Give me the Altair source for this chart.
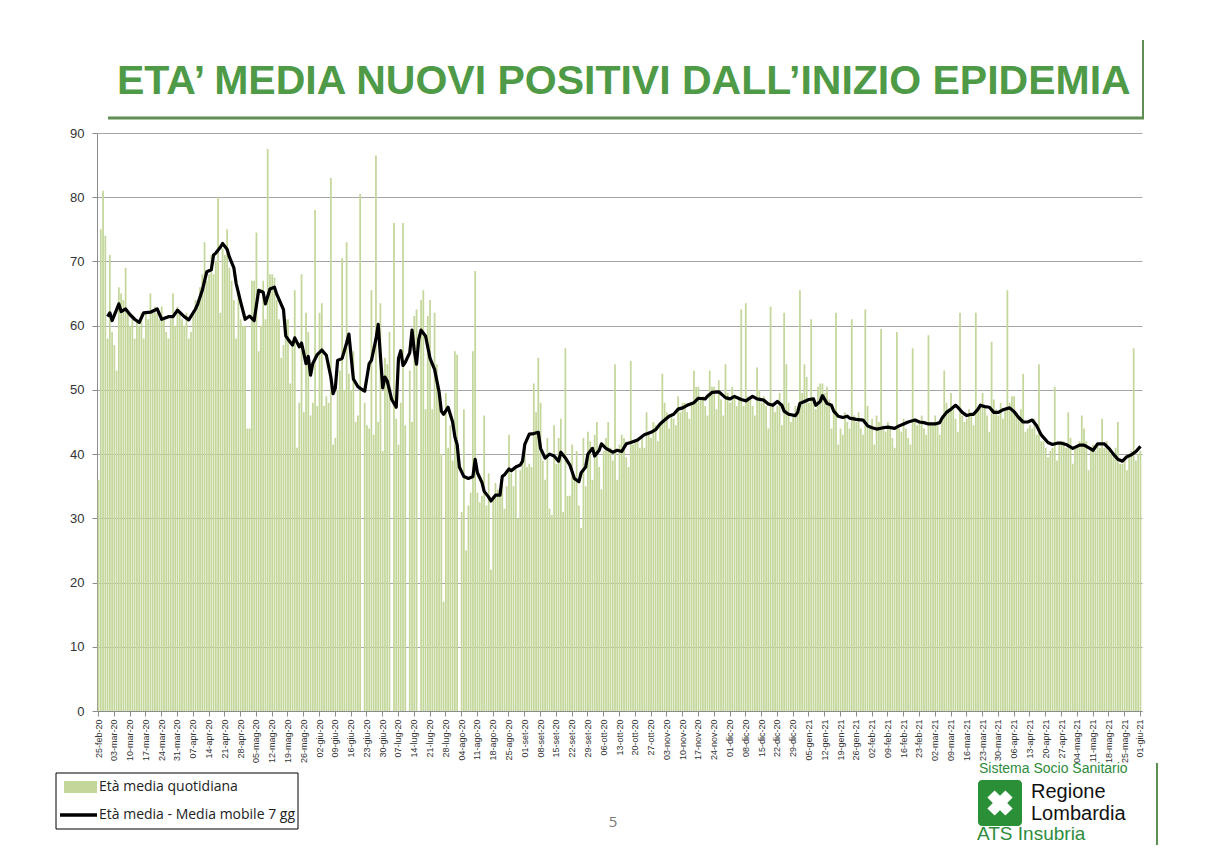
import altair as alt
import pandas as pd
from datetime import date, timedelta

# ---------------- categories (days) ----------------
MESI = ["gen", "feb", "mar", "apr", "mag", "giu", "lug", "ago", "set", "ott", "nov", "dic"]
INIZIO = date(2020, 2, 25)
N_GIORNI = 463
giorni = [INIZIO + timedelta(days=i) for i in range(N_GIORNI)]
etichette = [f"{g.day:02d}-{MESI[g.month - 1]}-{g.year % 100:02d}" for g in giorni]
tick_labels = etichette[::7]

# ---------------- daily mean age (bars), one row per week ----------------
eta_quotidiana = [
    36, 75, 81, 74, 58, 71, 59,            # 25-feb
    57, 53, 66, 65, 64, 69, 62,            # 03-mar
    60, 61, 58, 61, 60, 62, 58,            # 10-mar
    62, 61, 65, 62, 63, 62, 61,            # 17-mar
    63, 61, 59, 58, 61, 65, 60,            # 24-mar
    63, 62, 61, 60, 62, 58, 59,            # 31-mar
    62, 64, 64, 66, 68, 73, 67,            # 07-apr
    68, 71, 68, 70, 80, 62, 72,            # 14-apr
    71, 75, 69, 67, 64, 58, 65,            # 21-apr
    61, 60, 60, 44, 44, 67, 67,            # 28-apr
    74.5, 56, 60, 67, 61, 87.5, 68,        # 05-mag
    68, 67.5, 64, 61, 55, 57, 61,          # 12-mag
    61, 51, 57, 65.5, 41, 48, 68,          # 19-mag
    46.5, 62, 59, 46, 48, 78, 47.5,        # 26-mag
    62, 63.5, 47.5, 49, 48, 83, 41.5,      # 02-giu
    42.5, 50, 53, 70.5, 50, 73, 52.5,      # 09-giu
    50, 56, 45, 46, 80.5, 0, 48,           # 16-giu
    44.5, 44, 65.5, 43, 86.5, 45, 63.5,    # 23-giu
    40.5, 55, 54, 59, 0, 76, 45.5,         # 30-giu
    41.5, 48, 76, 44.5, 0, 53, 45,         # 07-lug
    61.5, 62.5, 0, 64, 65.5, 47, 61.5,     # 14-lug
    64, 47, 62, 54, 50, 40, 17,            # 21-lug
    49.5, 41, 44.5, 39, 56, 55.5, 0,       # 28-lug
    31, 47, 25, 32, 34, 56, 68.5,          # 04-ago
    34, 32.5, 33.5, 46, 32, 37, 22,        # 11-ago
    33.5, 35.5, 34.5, 33.5, 35, 31.5, 35,  # 18-ago
    43, 37, 35, 38, 30, 37.5, 39.5,        # 25-ago
    41, 38, 38.5, 38, 51, 46.5, 55,        # 01-set
    48, 39, 36, 42.5, 31.5, 30.5, 44.5,    # 08-set
    38.5, 42.5, 45.5, 31, 56.5, 33.5, 33.5,  # 15-set
    41.5, 36, 40.5, 32, 28.5, 42.5, 35,    # 22-set
    43.5, 42, 36, 43, 45, 38, 34.5,        # 29-set
    40.5, 42.5, 45, 41, 39, 54, 36,        # 06-ott
    41.5, 43, 42.5, 39.5, 38, 54.5, 41.5,  # 13-ott
    42, 42, 41, 42.5, 41, 46.5, 43,        # 20-ott
    42.5, 45, 44.5, 42, 44.5, 52.5, 48,    # 27-ott
    46.5, 44, 46, 45.5, 44.5, 49, 46.5,    # 03-nov
    48, 48, 46.5, 45.5, 48, 53, 50.5,      # 10-nov
    50.5, 48.5, 49, 47.5, 46, 53, 50.5,    # 17-nov
    50.5, 47, 51.5, 48.5, 46, 54, 49.5,    # 24-nov
    48, 50.5, 49, 47.5, 48.5, 62.5, 47.5,  # 01-dic
    63.5, 49, 48.5, 47.5, 46, 53.5, 50,    # 08-dic
    48, 49, 47.5, 44, 63, 48, 46.5,        # 15-dic
    47.5, 49.5, 44.5, 62, 54, 48, 45,      # 22-dic
    46, 47.5, 47, 65.5, 49.5, 54, 52,      # 29-dic
    48, 61, 48.5, 47, 50.5, 51, 51,        # 05-gen
    49.5, 50.5, 48.5, 44, 46.5, 62, 41.5,  # 12-gen
    44, 43, 46.5, 45, 44, 61, 46,          # 19-gen
    45, 46.5, 44, 43, 62.5, 47.5, 44.5,    # 26-gen
    45.5, 41.5, 46, 45, 59.5, 44.5, 43.5,  # 02-feb
    45, 44, 42.5, 41, 59, 44, 43.5,        # 09-feb
    45.5, 44, 42.5, 41.5, 56.5, 45.5, 44.5,  # 16-feb
    45, 46, 44, 43, 58.5, 45, 44.5,        # 23-feb
    46, 44.5, 43, 46, 53, 48, 46.5,        # 02-mar
    49.5, 47, 45.5, 43.5, 62, 46, 45,      # 09-mar
    45.5, 47, 46, 44.5, 62, 47, 48,        # 16-mar
    49.5, 47.5, 46, 43.5, 57.5, 48.5, 47,  # 23-mar
    46, 48, 45.5, 47, 65.5, 48, 49,        # 30-mar
    49, 46.5, 45.5, 47, 52.5, 43.5, 44,    # 06-apr
    44.5, 44, 45.5, 43, 54, 42, 42,        # 13-apr
    41, 39.5, 40.5, 41, 50.5, 39, 41.5,    # 20-apr
    42, 42, 41, 46.5, 42.5, 38.5, 41,      # 27-apr
    41.5, 42, 46, 44, 42, 37.5, 41,        # 04-mag
    41.5, 40.5, 41.5, 41, 45.5, 41, 42,    # 11-mag
    40.5, 40, 40, 41, 45, 38.5, 38.5,      # 18-mag
    39.5, 37.5, 40, 40.5, 56.5, 39, 40,    # 25-mag
    40.5,                                  # 01-giu
]

# ---------------- 7-day moving average (line): day index and value ----------------
media_giorni = [
    4, 5, 6, 8, 9, 10, 12, 14, 16, 18, 20, 23, 26, 28, 31, 33, 35, 38, 40, 43,
    44, 46, 48, 50, 51, 52, 54, 55, 57, 58, 60, 61, 63, 65, 67, 69, 71, 73, 74, 76,
    78, 79, 82, 83, 84, 86, 87, 89, 90, 92, 93, 94, 95, 97, 99, 101, 103, 104, 105, 106,
    108, 110, 111, 113, 115, 117, 118, 120, 121, 123, 124, 126, 127, 128, 130, 132, 133, 134, 135, 136,
    138, 139, 140, 141, 142, 143, 145, 147, 149, 151, 152, 153, 155, 157, 158, 159, 160, 162, 164, 166,
    167, 168, 170, 171, 173, 174, 176, 178, 179, 180, 182, 183, 185, 187, 188, 189, 191, 193, 195, 196,
    198, 200, 202, 204, 205, 207, 209, 211, 213, 214, 216, 217, 219, 220, 222, 223, 225, 228, 230, 232,
    234, 236, 239, 242, 245, 247, 249, 251, 253, 255, 257, 259, 261, 264, 266, 269, 270, 272, 275, 278,
    280, 282, 283, 285, 287, 290, 292, 295, 297, 299, 301, 303, 304, 306, 309, 310, 311, 313, 315, 317,
    318, 320, 321, 323, 325, 326, 328, 330, 332, 333, 336, 339, 341, 343, 345, 348, 350, 353, 355, 357,
    359, 362, 364, 366, 368, 371, 373, 374, 376, 378, 380, 381, 383, 385, 387, 388, 390, 391, 393, 395,
    397, 399, 401, 404, 406, 408, 410, 412, 414, 416, 418, 421, 423, 425, 427, 429, 432, 435, 437, 439,
    441, 443, 446, 448, 450, 452, 454, 456, 458, 460, 462,
]
media_valori = [
    61.4, 62.0, 60.8, 62.5, 63.4, 62.2, 62.6, 61.7, 61.0, 60.5, 62.0, 62.1, 62.6, 61.0, 61.4, 61.4, 62.4, 61.4, 60.9, 62.6,
    63.4, 65.5, 68.4, 68.7, 71.0, 71.3, 72.2, 72.8, 71.9, 70.7, 69.0, 66.6, 63.7, 61.0, 61.5, 60.8, 65.5, 65.2, 63.4, 65.7,
    66.0, 64.9, 62.5, 58.4, 57.9, 57.0, 58.1, 56.7, 57.3, 54.1, 55.2, 52.3, 54.1, 55.5, 56.2, 55.4, 52.0, 49.4, 50.3, 54.6,
    54.9, 57.3, 58.7, 51.7, 50.5, 50.0, 49.8, 54.1, 54.6, 57.9, 60.2, 50.3, 52.0, 51.4, 48.5, 47.3, 54.9, 56.1, 53.8, 54.3,
    55.8, 59.3, 56.1, 54.0, 57.9, 59.3, 58.4, 54.9, 53.2, 49.7, 46.7, 46.2, 47.3, 45.0, 42.7, 41.5, 38.0, 36.5, 36.2, 36.5,
    39.2, 37.1, 35.6, 34.2, 33.3, 32.7, 33.6, 33.6, 36.5, 36.8, 37.7, 37.4, 38.0, 38.3, 38.9, 41.5, 43.1, 43.2, 43.4, 40.9,
    39.4, 40.0, 39.7, 38.9, 40.3, 39.4, 38.3, 36.2, 35.7, 37.1, 38.0, 40.0, 40.9, 39.7, 40.6, 41.6, 40.9, 40.3, 40.6, 40.4,
    41.6, 41.8, 42.2, 43.0, 43.4, 43.8, 44.7, 45.3, 45.9, 46.2, 47.0, 47.2, 47.6, 48.0, 48.7, 48.6, 49.0, 49.6, 49.7, 48.8,
    48.6, 49.0, 48.8, 48.5, 48.3, 49.0, 48.6, 48.4, 47.8, 47.6, 48.2, 47.6, 46.7, 46.2, 46.0, 46.5, 47.9, 48.2, 48.5, 48.6,
    47.6, 48.2, 49.1, 47.9, 47.6, 46.7, 45.9, 45.7, 45.9, 45.6, 45.4, 45.3, 44.4, 44.1, 43.9, 44.1, 44.2, 44.0, 44.4, 44.7,
    45.0, 45.3, 45.0, 44.9, 44.7, 44.7, 44.9, 45.6, 46.5, 47.0, 47.6, 47.3, 46.5, 46.0, 46.2, 46.2, 47.0, 47.6, 47.4, 47.3,
    46.5, 46.5, 46.9, 47.2, 46.6, 45.7, 45.0, 45.0, 45.3, 44.4, 43.0, 41.8, 41.5, 41.7, 41.7, 41.5, 40.9, 41.4, 41.4, 41.0,
    40.6, 41.6, 41.6, 40.9, 40.0, 39.2, 38.9, 39.6, 39.9, 40.4, 41.2,
]

n = min(len(eta_quotidiana), N_GIORNI)
df_bar = pd.DataFrame({"data": etichette[:n], "eta": eta_quotidiana[:n]})
m = min(len(media_giorni), len(media_valori))
df_line = pd.DataFrame({"data": [etichette[d] for d in media_giorni[:m]], "media": media_valori[:m]})

# ---------------- styles ----------------
GREEN_TITLE = "#4e9a46"
GREEN_LOGO = "#2e8b3c"
BAR_COLOR = "#c4d79b"
FONT = "Liberation Sans"
OX, OY = 97, 133  # page position of plot origin

x_scale = alt.Scale(domain=etichette, paddingInner=0.22, paddingOuter=0.3)
x_axis = alt.Axis(values=tick_labels, labelAngle=270, labelFontSize=9, labelColor="#333333",
                  labelFont=FONT, tickSize=5, tickColor="#8c8c8c", domainColor="#8c8c8c",
                  labelPadding=3, labelOverlap=False, grid=False, title=None, labelBaseline="middle")
y_scale = alt.Scale(domain=[0, 90], nice=False)
y_axis = alt.Axis(values=list(range(0, 91, 10)), grid=True, gridColor="#a6a6a6", gridWidth=1,
                  domainColor="#8c8c8c", tickColor="#8c8c8c", tickSize=5, labelFontSize=13,
                  labelColor="#333333", labelFont=FONT, labelPadding=8, title=None)

bars = alt.Chart(df_bar).mark_bar(color=BAR_COLOR).encode(
    x=alt.X("data:O", scale=x_scale, sort=None, axis=x_axis),
    y=alt.Y("eta:Q", scale=y_scale, axis=y_axis),
)
line = alt.Chart(df_line).mark_line(color="black", strokeWidth=3.2, strokeJoin="round").encode(
    x=alt.X("data:O", scale=x_scale, sort=None, axis=x_axis),
    y=alt.Y("media:Q", scale=y_scale, axis=y_axis),
)

one = pd.DataFrame({"k": [0]})


def txt(t, px, py, size, color, weight="normal", font=FONT, align="left", baseline="alphabetic"):
    return alt.Chart(one).mark_text(text=t, fontSize=size, color=color, fontWeight=weight, font=font,
                                    align=align, baseline=baseline).encode(
        x=alt.value(px - OX), y=alt.value(py - OY))


def rule(px1, py1, px2, py2, color, width):
    return alt.Chart(one).mark_rule(color=color, strokeWidth=width).encode(
        x=alt.value(px1 - OX), y=alt.value(py1 - OY), x2=alt.value(px2 - OX), y2=alt.value(py2 - OY))


def rect(px1, py1, px2, py2, fill, stroke=None, radius=0, opacity=1):
    kw = dict(fill=fill, cornerRadius=radius, fillOpacity=opacity)
    if stroke:
        kw.update(stroke=stroke, strokeWidth=1)
    return alt.Chart(one).mark_rect(**kw).encode(
        x=alt.value(px1 - OX), y=alt.value(py1 - OY), x2=alt.value(px2 - OX), y2=alt.value(py2 - OY))


decos = [
    # title and frame lines
    txt("ETA’ MEDIA NUOVI POSITIVI DALL’INIZIO EPIDEMIA", 117, 94, 41, GREEN_TITLE, weight="bold"),
    rule(108, 118, 1144, 118, "#5f8f52", 3),
    rule(1143, 40, 1143, 118, "#5f8f52", 2),
    rule(1157, 763, 1157, 860, "#5f8f52", 2),
    # legend
    rect(56, 773, 298, 829, "white", stroke="black"),
    rect(64, 781, 97, 793, BAR_COLOR),
    txt("Età media quotidiana", 99, 787, 14, "#222222", font="Open Sans", baseline="middle"),
    rule(60, 815, 97, 815, "black", 3.5),
    txt("Età media - Media mobile 7 gg", 99, 815, 14, "#222222", font="Open Sans", baseline="middle"),
    # page number
    txt("5", 613, 822, 15, "#777777", font="Open Sans", align="center", baseline="middle"),
    # logo
    txt("Sistema Socio Sanitario", 979, 773, 14, GREEN_LOGO),
    rect(978, 780, 1022, 826, "#2a8f36", radius=4),
    alt.Chart(one).mark_point(shape="cross", filled=True, color="white", size=650, angle=45, opacity=1).encode(
        x=alt.value(1000 - OX), y=alt.value(803 - OY)),
    txt("Regione", 1031, 798, 20, "#111111"),
    txt("Lombardia", 1031, 820, 20, "#111111"),
    txt("ATS Insubria", 977, 840, 19, GREEN_LOGO),
]

chart = alt.layer(bars, line, *decos).properties(
    width=1045, height=578,
    autosize=alt.AutoSizeParams(type="none"),
    padding={"left": 89, "top": 125, "right": 58, "bottom": 134},
    background="white",
).configure_view(stroke=None)

chart.save("out.html", embed_options={"renderer": "svg", "actions": False})
